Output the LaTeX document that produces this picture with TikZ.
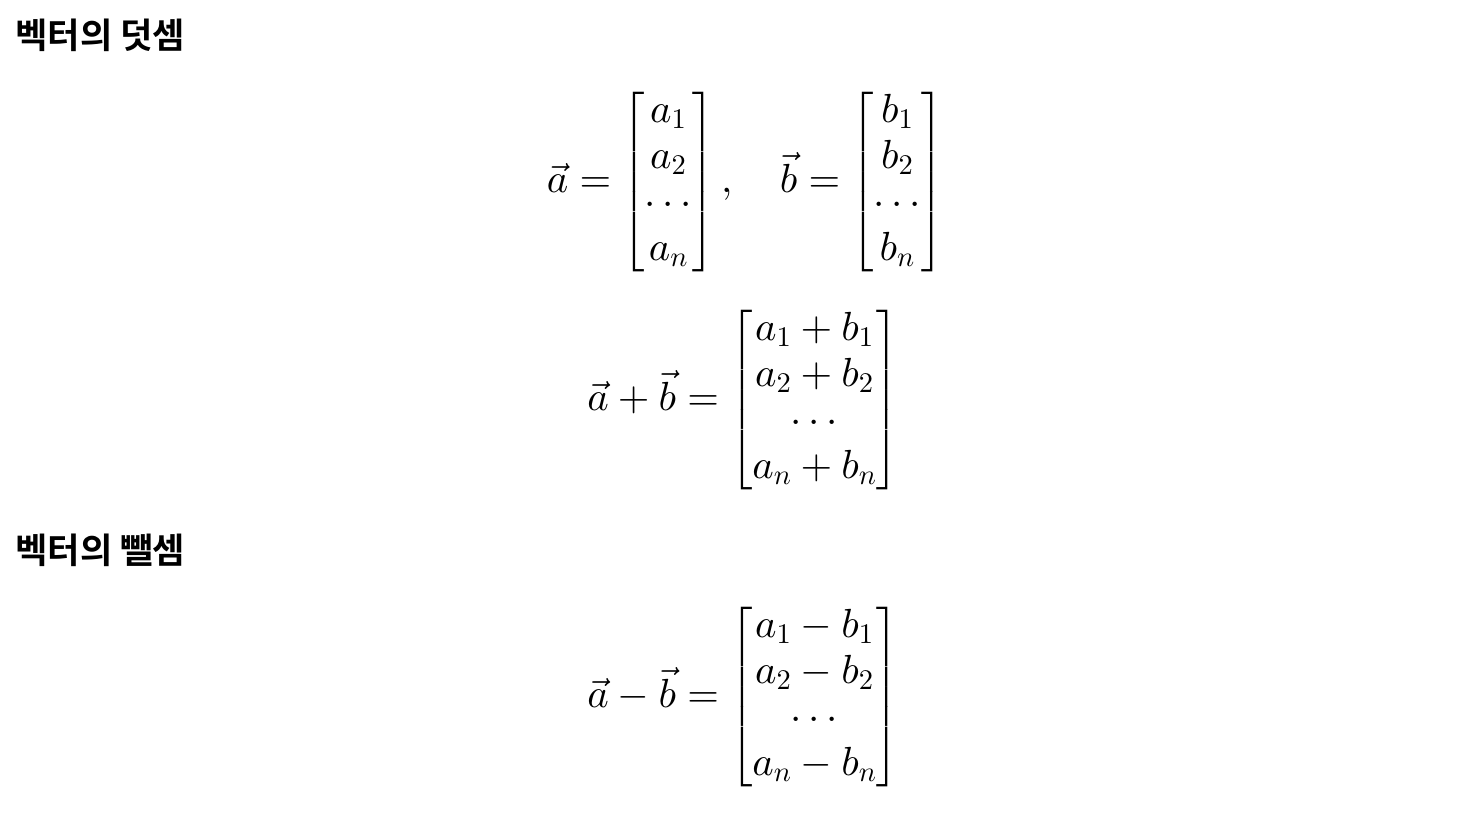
\documentclass[tikz,border=0pt]{standalone}
\usepackage{amsmath}
\usepackage{fontspec}
\newfontfamily\krfont{Noto Sans CJK KR}[BoldFont={* Bold}]
% math in the 10pt design at every size
\DeclareFontShape{OML}{cmm}{m}{it}{<-> cmmi10}{}
\DeclareFontShape{OT1}{cmr}{m}{n}{<-> cmr10}{}
\DeclareFontShape{OMS}{cmsy}{m}{n}{<-> cmsy10}{}
\usepackage{tikz}
\usetikzlibrary{positioning}
\tikzset{heading/.style = {anchor=west, inner sep=0pt, font=\krfont\bfseries\fontsize{26.4}{30}\selectfont}}
\tikzset{formula/.style = {inner sep=0pt, font=\fontsize{30.5}{34.5}\selectfont}}

\begin{document}
\begin{tikzpicture}[x=0.75pt, y=-0.75pt]
		% Frame
		\useasboundingbox (0,0) rectangle (1480,838);

		% Addition
		\node[heading] (addhead) at (15,35) {벡터의 덧셈};
		\node[formula] (vecs) at (745,182) {$\vec{a} = \begin{bmatrix} a_1 \\ a_2 \\ \cdots \\ a_n \end{bmatrix}, \quad \vec{b} = \begin{bmatrix} b_1 \\ b_2 \\ \cdots \\ b_n \end{bmatrix}$};
		\node[formula] (sum) at (743,400) {$\vec{a} + \vec{b} = \begin{bmatrix} a_1 + b_1 \\ a_2 + b_2 \\ \cdots \\ a_n + b_n \end{bmatrix}$};

		% Subtraction
		\node[heading] (subhead) at (15,550) {벡터의 뺄셈};
		\node[formula] (diff) at (743,697) {$\vec{a} - \vec{b} = \begin{bmatrix} a_1 - b_1 \\ a_2 - b_2 \\ \cdots \\ a_n - b_n \end{bmatrix}$};
\end{tikzpicture}
\end{document}
